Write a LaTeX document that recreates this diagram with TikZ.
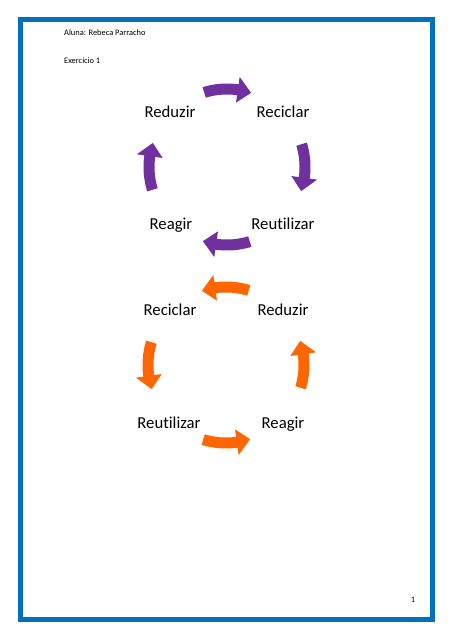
\documentclass[tikz,border=0pt]{standalone}
\usepackage{fontspec}
\setmainfont[Ligatures=NoCommon]{Carlito}
\definecolor{pborder}{RGB}{0,112,192}
\definecolor{cpurple}{RGB}{112,48,160}
\definecolor{corange}{RGB}{255,102,0}
\newcommand{\carrow}[5]{%
  \begin{scope}[shift={(#1)}]
    \fill[#5] (#2:83.5) arc[start angle=#2, end angle=#3, radius=83.5]
      -- (#3:91) -- (#4:78) -- (#3:65) -- (#3:72.5)
      arc[start angle=#3, end angle=#2, radius=72.5] -- cycle;
  \end{scope}}
\tikzset{
  lbl/.style={font=\fontsize{16.7}{20}\selectfont, inner sep=0pt, anchor=base},
  small/.style={font=\fontsize{8.4}{10}\selectfont, inner sep=0pt},
}
\begin{document}
\begin{tikzpicture}[x=1pt,y=-1pt]
  \useasboundingbox (0,0) rectangle (453,640);
  \fill[white] (0,0) rectangle (453,640);
  \draw[pborder, line width=5pt] (20.5,19.5) rectangle (432.5,619.5);
  \node[small, anchor=base west] (aluna) at (64,35.5) {Aluna: Rebeca Parracho};
  \node[small, anchor=base west] (exerc) at (64,63.5) {Exercício 1};
  \node[small, anchor=base] (pnum) at (413,602) {1};
  % top cycle
  \coordinate (c1) at (227,167);
  \node[lbl] (reduzirA) at (170,117) {Reduzir};
  \node[lbl] (reciclarA) at (283,117) {Reciclar};
  \node[lbl] (reutilizarA) at (283,229.5) {Reutilizar};
  \node[lbl] (reagirA) at (171,229.5) {Reagir};
  \carrow{c1}{-107}{-82}{-72}{cpurple}
  \carrow{c1}{-17}{8}{18}{cpurple}
  \carrow{c1}{73}{98}{108}{cpurple}
  \carrow{c1}{163}{188}{198}{cpurple}
  % bottom cycle
  \coordinate (c2) at (226,365);
  \node[lbl] (reciclarB) at (170,315) {Reciclar};
  \node[lbl] (reduzirB) at (283,315) {Reduzir};
  \node[lbl] (reutilizarB) at (169,428) {Reutilizar};
  \node[lbl] (reagirB) at (283,428) {Reagir};
  \carrow{c2}{-73}{-98}{-108}{corange}
  \carrow{c2}{197}{172}{162}{corange}
  \carrow{c2}{107}{82}{72}{corange}
  \carrow{c2}{17}{-8}{-18}{corange}
\end{tikzpicture}
\end{document}
